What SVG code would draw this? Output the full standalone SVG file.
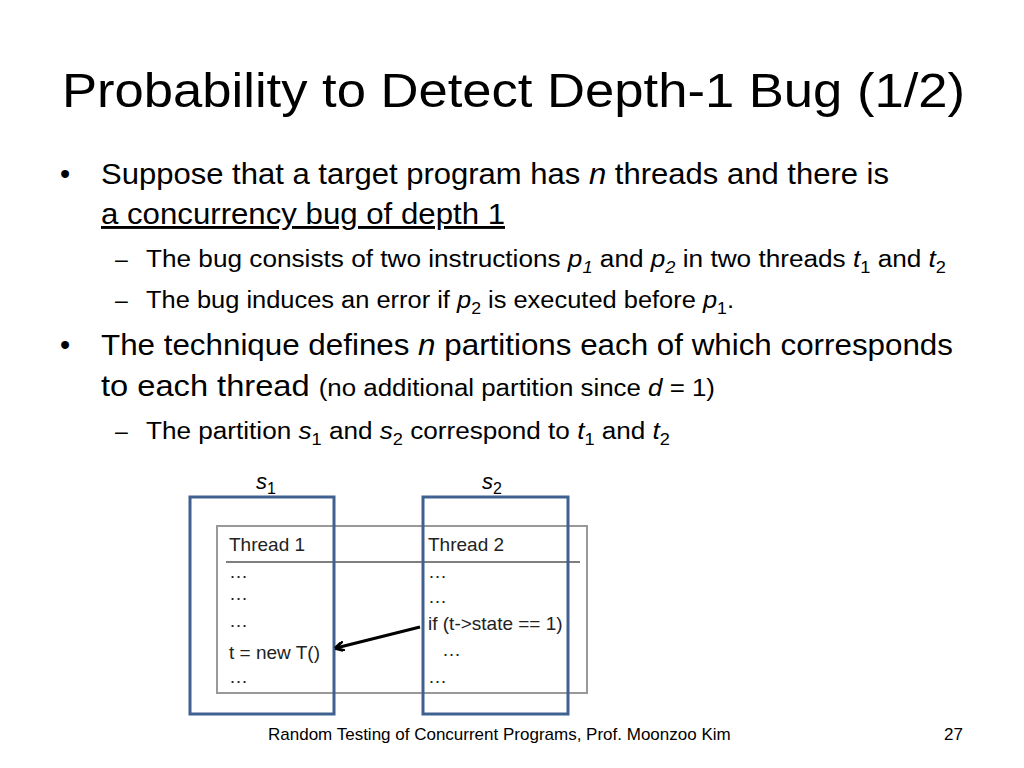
<svg xmlns="http://www.w3.org/2000/svg" width="1024" height="768" viewBox="0 0 1024 768">
<style>
text{font-family:"Liberation Sans","Open Sans",sans-serif;fill:#000}
.b{font-size:29px}.s{font-size:23px}.c{font-size:19px;fill:#222}
.blue{fill:none;stroke:#3f6190;stroke-width:3}
</style>
<defs><marker id="ah" markerWidth="10" markerHeight="10" refX="8" refY="5" orient="auto" markerUnits="userSpaceOnUse"><path d="M9,5 L0,0 M9,5 L0,10" stroke="#000" stroke-width="3" fill="none"/></marker></defs>
<rect width="1024" height="768" fill="#fff"/>
<text x="62" y="107" font-size="48" textLength="903" lengthAdjust="spacingAndGlyphs">Probability to Detect Depth-1 Bug (1/2)</text>
<text x="60" y="184" class="b">•</text>
<text x="101" y="184" class="b" textLength="788" lengthAdjust="spacingAndGlyphs">Suppose that a target program has <tspan font-style="italic">n</tspan> threads and there is</text>
<text x="101" y="224" class="b" text-decoration="underline" textLength="404" lengthAdjust="spacingAndGlyphs">a concurrency bug of depth 1</text>
<text x="115" y="267" class="s">–</text>
<text x="146" y="267" class="s" textLength="800" lengthAdjust="spacingAndGlyphs">The bug consists of two instructions <tspan font-style="italic">p</tspan><tspan font-style="italic" font-size="16" dy="6">1</tspan><tspan dy="-6"> and </tspan><tspan font-style="italic">p</tspan><tspan font-style="italic" font-size="16" dy="6">2</tspan><tspan dy="-6"> in two threads </tspan><tspan font-style="italic">t</tspan><tspan font-size="16" dy="6">1</tspan><tspan dy="-6"> and </tspan><tspan font-style="italic">t</tspan><tspan font-size="16" dy="6">2</tspan></text>
<text x="115" y="308" class="s">–</text>
<text x="146" y="308" class="s" textLength="588" lengthAdjust="spacingAndGlyphs">The bug induces an error if <tspan font-style="italic">p</tspan><tspan font-size="16" dy="6">2</tspan><tspan dy="-6"> is executed before </tspan><tspan font-style="italic">p</tspan><tspan font-size="16" dy="6">1</tspan><tspan dy="-6">.</tspan></text>
<text x="60" y="355" class="b">•</text>
<text x="101" y="355" class="b" textLength="852" lengthAdjust="spacingAndGlyphs">The technique defines <tspan font-style="italic">n</tspan> partitions each of which corresponds</text>
<text x="101" y="396" class="b" textLength="614" lengthAdjust="spacingAndGlyphs">to each thread <tspan font-size="23">(no additional partition since </tspan><tspan font-size="23" font-style="italic">d</tspan><tspan font-size="23"> = 1)</tspan></text>
<text x="115" y="439" class="s">–</text>
<text x="146" y="439" class="s" textLength="524" lengthAdjust="spacingAndGlyphs">The partition <tspan font-style="italic">s</tspan><tspan font-size="16" dy="6">1</tspan><tspan dy="-6"> and </tspan><tspan font-style="italic">s</tspan><tspan font-size="16" dy="6">2</tspan><tspan dy="-6"> correspond to </tspan><tspan font-style="italic">t</tspan><tspan font-size="16" dy="6">1</tspan><tspan dy="-6"> and </tspan><tspan font-style="italic">t</tspan><tspan font-size="16" dy="6">2</tspan></text>
<g id="table">
<rect x="217" y="526" width="370" height="167" fill="none" stroke="#999" stroke-width="2"/>
<line x1="226" y1="562" x2="580" y2="562" stroke="#555" stroke-width="1.5"/>
<text x="229" y="551" class="c">Thread 1</text>
<text x="428" y="551" class="c">Thread 2</text>
<text x="229" y="578" class="c">…</text><text x="229" y="600" class="c">…</text><text x="229" y="627" class="c">…</text>
<text x="229" y="659" class="c">t = new T()</text><text x="229" y="683" class="c">…</text>
<text x="428" y="578" class="c">…</text><text x="428" y="603" class="c">…</text>
<text x="428" y="630" class="c">if (t-&gt;state == 1)</text>
<text x="442" y="656" class="c">…</text><text x="428" y="683" class="c">…</text>
</g>
<g id="s1"><rect class="blue" x="190" y="497" width="144" height="217"/><text x="256" y="489" font-size="22" font-style="italic">s<tspan font-style="normal" font-size="16" dy="5">1</tspan></text></g>
<g id="s2"><rect class="blue" x="423" y="497" width="145" height="217"/><text x="482" y="489" font-size="22" font-style="italic">s<tspan font-style="normal" font-size="16" dy="5">2</tspan></text></g>
<g id="connectors"><line x1="420" y1="627" x2="336" y2="648" stroke="#000" stroke-width="3" marker-end="url(#ah)"/></g>
<text x="268" y="740" font-size="17" fill="#333">Random Testing of Concurrent Programs, Prof. Moonzoo Kim</text>
<text x="944" y="740" font-size="17" fill="#555">27</text>
</svg>
